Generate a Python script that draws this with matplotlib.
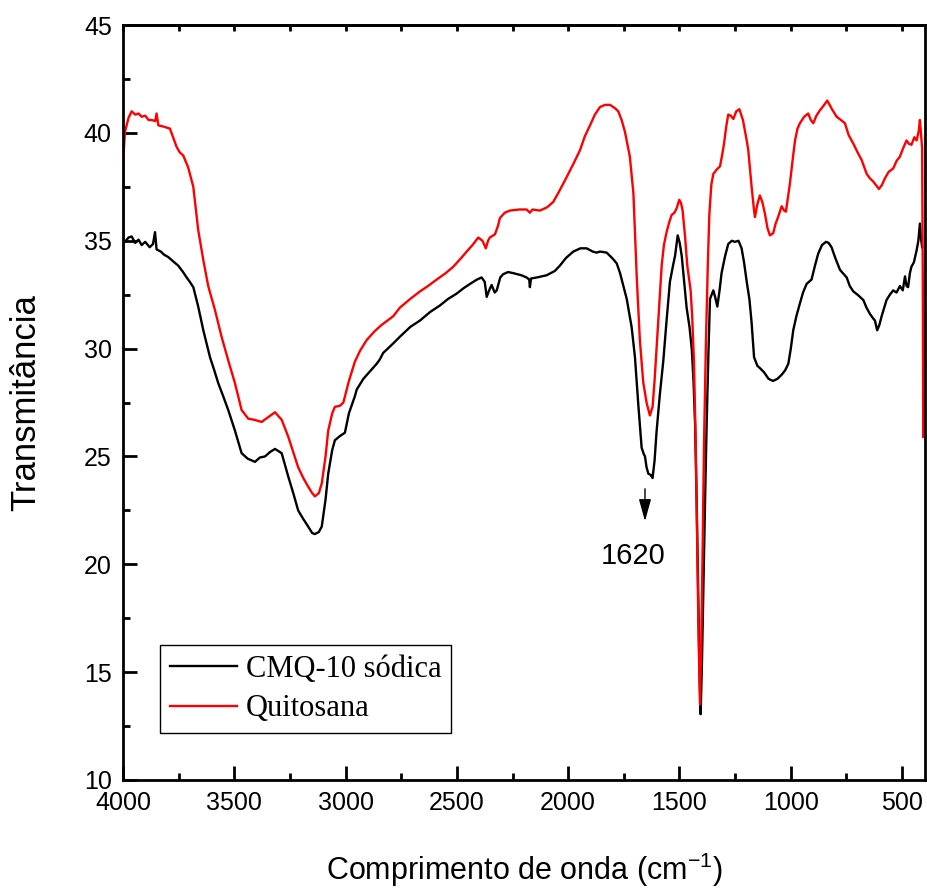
import matplotlib
matplotlib.use('Agg')
import matplotlib.pyplot as plt
from matplotlib.ticker import MultipleLocator

plt.rcParams['font.family'] = ['Liberation Sans', 'DejaVu Sans']
plt.rcParams['mathtext.fontset'] = 'custom'
plt.rcParams['mathtext.rm'] = 'Liberation Sans'
plt.rcParams['mathtext.it'] = 'Liberation Sans:italic'

# CMQ-10 sódica (preto)
cmq_x = [4000, 3991, 3975, 3961, 3945, 3930, 3916, 3900, 3880, 3865, 3856, 3849, 3830, 3815,
         3797, 3775, 3752, 3730, 3714, 3700, 3684, 3662, 3639, 3609, 3590, 3572, 3550, 3527,
         3497, 3467, 3440, 3407, 3385, 3362, 3340, 3317, 3287, 3257, 3235, 3213, 3190, 3168,
         3150, 3138, 3120, 3107, 3090, 3078, 3060, 3048, 3025, 3003, 2985, 2958, 2950, 2920,
         2890, 2860, 2846, 2831, 2790, 2756, 2710, 2666, 2620, 2576, 2540, 2501, 2470, 2441,
         2410, 2389, 2375, 2366, 2355, 2344, 2330, 2321, 2305, 2292, 2270, 2247, 2210, 2187,
         2175, 2172, 2167, 2140, 2097, 2060, 2037, 2010, 1977, 1945, 1917, 1890, 1872, 1857,
         1827, 1798, 1782, 1767, 1737, 1715, 1700, 1685, 1670, 1660, 1655, 1648, 1640, 1630,
         1621, 1612, 1603, 1588, 1573, 1558, 1543, 1530, 1520, 1508, 1499, 1490, 1478, 1468,
         1455, 1445, 1437, 1430, 1423, 1416, 1410, 1405, 1399, 1393, 1385, 1378, 1370, 1363,
         1348, 1340, 1330, 1320, 1311, 1295, 1281, 1265, 1251, 1235, 1221, 1210, 1198, 1186,
         1176, 1165, 1150, 1139, 1120, 1100, 1080, 1060, 1040, 1025, 1011, 1000, 989, 975,
         959, 945, 929, 907, 890, 877, 860, 842, 830, 817, 800, 779, 749, 735, 719, 700, 674,
         660, 644, 630, 622, 612, 602, 592, 580, 570, 555, 540, 525, 510, 497, 487, 480, 473,
         465, 458, 447, 435, 427, 420, 415, 410]
cmq_y = [35.0, 34.95, 35.15, 35.2, 34.9, 35.05, 34.8, 34.95, 34.7, 34.85, 35.4, 34.6, 34.5, 34.35,
         34.25, 34.05, 33.85, 33.55, 33.3, 33.1, 32.85, 31.95, 30.85, 29.6, 29.0, 28.4, 27.8, 27.15,
         26.2, 25.15, 24.9, 24.75, 24.95, 25.0, 25.2, 25.35, 25.15, 24.05, 23.3, 22.5, 22.1, 21.75,
         21.45, 21.4, 21.5, 21.75, 23.0, 24.2, 25.3, 25.75, 25.95, 26.1, 27.0, 27.8, 28.1, 28.6,
         28.95, 29.3, 29.5, 29.8, 30.2, 30.55, 31.0, 31.3, 31.7, 32.0, 32.3, 32.55, 32.8, 33.0,
         33.2, 33.3, 33.1, 32.4, 32.7, 32.95, 32.6, 32.7, 33.3, 33.45, 33.55, 33.5, 33.4, 33.3,
         33.2, 32.85, 33.25, 33.3, 33.4, 33.6, 33.85, 34.2, 34.5, 34.65, 34.65, 34.5, 34.45, 34.5,
         34.45, 34.15, 33.95, 33.5, 32.3, 31.0, 29.6, 27.4, 25.4, 25.1, 25.0, 24.5, 24.2, 24.15,
         24.0, 24.8, 26.15, 27.9, 29.4, 31.3, 33.1, 33.8, 34.3, 35.25, 34.9, 34.3, 33.0, 31.9,
         31.0, 30.0, 28.5, 26.5, 23.0, 18.8, 15.0, 13.05, 15.5, 18.8, 23.0, 26.5, 29.8, 32.3,
         32.7, 32.4, 31.95, 32.7, 33.5, 34.3, 34.85, 35.0, 34.95, 35.0, 34.65, 34.0, 33.1, 32.3,
         31.2, 29.6, 29.2, 29.1, 28.9, 28.6, 28.5, 28.6, 28.8, 29.0, 29.3, 30.0, 30.85, 31.5,
         32.1, 32.6, 33.0, 33.2, 33.9, 34.4, 34.8, 34.95, 34.9, 34.7, 34.2, 33.65, 33.3, 32.9, 32.65, 32.5, 32.25,
         31.9, 31.6, 31.4, 31.3, 30.85, 31.1, 31.5, 31.9, 32.25, 32.5, 32.7, 32.6, 32.9, 32.7, 33.35, 32.9, 32.85,
         33.5, 33.8, 34.0, 34.55, 35.0, 35.8, 35.1, 34.7]

# Quitosana (vermelho)
qui_x = [4000, 3998, 3991, 3975, 3961, 3945, 3930, 3916, 3900, 3885, 3871, 3855, 3849, 3841,
         3820, 3789, 3775, 3759, 3745, 3729, 3707, 3684, 3662, 3639, 3617, 3587, 3557, 3527,
         3497, 3467, 3437, 3410, 3377, 3350, 3317, 3287, 3257, 3235, 3213, 3190, 3168, 3150,
         3138, 3120, 3107, 3090, 3078, 3060, 3048, 3025, 3010, 2985, 2958, 2935, 2905, 2870,
         2838, 2786, 2756, 2710, 2666, 2630, 2591, 2550, 2516, 2485, 2456, 2430, 2404, 2385,
         2370, 2360, 2352, 2329, 2315, 2307, 2285, 2262, 2220, 2187, 2172, 2160, 2127, 2095,
         2067, 2040, 2007, 1975, 1947, 1925, 1902, 1880, 1857, 1835, 1812, 1790, 1775, 1760,
         1745, 1723, 1707, 1692, 1678, 1663, 1648, 1633, 1621, 1612, 1603, 1590, 1580, 1570,
         1558, 1545, 1535, 1523, 1513, 1501, 1493, 1486, 1475, 1465, 1450, 1443, 1435, 1427,
         1420, 1414, 1408, 1402, 1396, 1390, 1381, 1373, 1366, 1357, 1348, 1333, 1318, 1308,
         1300, 1290, 1281, 1270, 1258, 1245, 1231, 1215, 1198, 1191, 1176, 1165, 1161, 1150,
         1139, 1128, 1116, 1105, 1094, 1079, 1068, 1057, 1041, 1030, 1022, 1004, 990, 981, 970,
         959, 940, 922, 910, 899, 885, 869, 850, 836, 815, 794, 775, 757, 740, 719, 700, 682,
         659, 645, 630, 615, 604, 590, 577, 560, 540, 525, 510, 495, 480, 470, 458, 445, 435,
         425, 420, 414, 410, 407, 405]
qui_y = [25.8, 38.9, 40.05, 40.7, 41.0, 40.85, 40.9, 40.75, 40.8, 40.6, 40.6, 40.55, 40.9, 40.35,
         40.3, 40.2, 39.8, 39.35, 39.1, 38.95, 38.4, 37.5, 35.5, 34.1, 32.9, 31.8, 30.55, 29.45,
         28.4, 27.15, 26.75, 26.7, 26.6, 26.8, 27.05, 26.7, 25.9, 25.2, 24.5, 24.0, 23.6, 23.3,
         23.15, 23.3, 23.75, 25.0, 26.2, 27.0, 27.3, 27.35, 27.5, 28.5, 29.4, 29.9, 30.4, 30.8,
         31.1, 31.5, 31.9, 32.3, 32.65, 32.9, 33.2, 33.5, 33.8, 34.15, 34.5, 34.8, 35.15, 35.0,
         34.65, 35.0, 35.15, 35.3, 35.7, 36.05, 36.3, 36.4, 36.45, 36.45, 36.3, 36.45, 36.4, 36.55,
         36.8, 37.3, 37.95, 38.6, 39.2, 39.85, 40.35, 40.85, 41.2, 41.3, 41.3, 41.15, 41.0, 40.6,
         40.05, 38.9, 37.2, 33.3, 30.4, 28.45, 27.5, 26.9, 27.3, 28.5, 30.0, 32.2, 33.85, 34.8,
         35.4, 35.9, 36.2, 36.3, 36.5, 36.9, 36.75, 36.4, 35.2, 33.85, 32.7, 31.5, 29.4, 25.5,
         20.75, 16.5, 13.5, 16.5, 20.75, 25.5, 30.4, 33.8, 36.2, 37.6, 38.1, 38.3, 38.45, 39.0,
         39.5, 40.3, 40.85, 40.8, 40.65, 41.0, 41.1, 40.6, 39.65, 39.2, 37.5, 36.4, 36.1, 36.7,
         37.1, 36.8, 36.25, 35.6, 35.25, 35.35, 35.8, 36.1, 36.6, 36.4, 36.35, 37.65, 38.9, 39.65, 40.2,
         40.45, 40.75, 40.9, 40.6, 40.45, 40.8, 41.05, 41.3, 41.5, 41.1, 40.75, 40.6, 40.45, 39.9, 39.5, 39.1, 38.75,
         38.1, 37.9, 37.75, 37.55, 37.4, 37.6, 37.9, 38.2, 38.35, 38.7, 38.9, 39.3, 39.65, 39.5, 39.45, 39.8, 39.65,
         40.1, 40.6, 39.8, 39.3, 33.0, 25.9]

fig = plt.figure(figsize=(9.28, 8.96), dpi=100)
ax = fig.add_axes([0.1325, 0.1295, 0.8643, 0.8425])

ax.plot(cmq_x, cmq_y, color='black', lw=1.7, label='CMQ-10 sódica')
ax.plot(qui_x, qui_y, color='red', lw=1.7, label='Quitosana')

ax.set_xlim(4000, 397)
ax.set_ylim(10, 45)
ax.xaxis.set_major_locator(MultipleLocator(500))
ax.xaxis.set_minor_locator(MultipleLocator(250))
ax.yaxis.set_major_locator(MultipleLocator(5))
ax.yaxis.set_minor_locator(MultipleLocator(2.5))
ax.tick_params(which='both', direction='in', width=2, labelsize=18)
ax.tick_params(which='major', length=10, pad=8)
ax.tick_params(which='minor', length=5)
for s in ax.spines.values():
    s.set_linewidth(2)

# ticks curtos no topo
top = ax.secondary_xaxis('top')
top.xaxis.set_major_locator(MultipleLocator(250))
top.tick_params(direction='in', length=4, width=2, labeltop=False)
top.spines['top'].set_linewidth(2)

ax.set_xlabel('Comprimento de onda (cm$^{-1}$)', fontsize=22, labelpad=26)
ax.set_ylabel('Transmitância', fontsize=25, labelpad=30)

ax.annotate('', xy=(1655, 22.0), xytext=(1655, 23.5),
            arrowprops=dict(arrowstyle='-|>,head_length=0.9,head_width=0.25',
                            color='black', lw=1, mutation_scale=15,
                            shrinkA=0, shrinkB=0))
ax.text(1709, 20.4, '1620', fontsize=21, ha='center', va='center')

leg = ax.legend(loc='lower left', bbox_to_anchor=(0.046, 0.062), borderaxespad=0,
                fancybox=False, edgecolor='black', framealpha=1, handlelength=2.2,
                prop={'family': 'Liberation Serif', 'size': 22}, labelspacing=0.35,
                borderpad=0.32, handletextpad=0.3)
leg.get_frame().set_linewidth(1)

plt.savefig('out.png', dpi=100)
